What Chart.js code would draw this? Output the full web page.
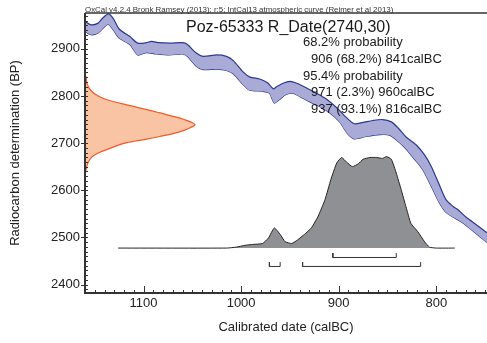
<!DOCTYPE html>
<html>
<head>
<meta charset="utf-8">
<script src="https://cdn.jsdelivr.net/npm/chart.js@4.4.0/dist/chart.umd.min.js"></script>
<style>
  html, body { margin: 0; padding: 0; background: #fff; }
  #wrap { width: 487px; height: 343px; }
</style>
</head>
<body>
<div id="wrap"><canvas id="calChart" width="487" height="343"></canvas></div>
<script>
// IntCal13 curve, upper and lower edge of the band (calBC, BP)
const upperYears = [1160, 1154, 1147, 1142, 1136, 1131, 1125, 1114, 1106, 1097, 1092, 1084, 1073, 1060, 1055, 1046, 1039, 1025, 1015, 1008, 998, 991, 981, 973, 967, 964, 957, 950, 943, 933, 923, 913, 902, 892, 884, 875, 865, 855, 846, 839, 831, 820, 812, 805, 797, 790, 783, 778, 769, 759, 748];
const upperBP = [2958, 2951, 2954, 2965, 2974, 2964, 2942, 2926, 2912, 2913, 2916, 2913, 2912, 2913, 2909, 2891, 2884, 2887, 2884, 2875, 2851, 2840, 2836, 2828, 2815, 2819, 2827, 2831, 2827, 2817, 2806, 2794, 2775, 2754, 2741, 2744, 2748, 2750, 2745, 2732, 2713, 2695, 2675, 2650, 2612, 2580, 2566, 2559, 2542, 2527, 2510];
const lowerYears = [1160, 1154, 1147, 1140, 1136, 1131, 1125, 1114, 1106, 1097, 1087, 1073, 1060, 1055, 1046, 1039, 1025, 1015, 1008, 998, 991, 978, 971, 966, 961, 954, 947, 940, 930, 920, 909, 899, 891, 884, 872, 858, 848, 841, 832, 822, 814, 805, 797, 790, 781, 773, 762, 748];
const lowerBP = [2937, 2930, 2933, 2947, 2952, 2940, 2923, 2909, 2887, 2892, 2889, 2887, 2889, 2884, 2863, 2856, 2857, 2854, 2847, 2824, 2812, 2810, 2806, 2785, 2792, 2803, 2806, 2799, 2788, 2778, 2764, 2745, 2720, 2709, 2714, 2718, 2717, 2707, 2690, 2665, 2644, 2608, 2574, 2553, 2541, 2531, 2513, 2489];

// radiocarbon measurement, relative probability along the BP axis
const dateBP = [2848, 2838, 2825, 2810, 2800, 2792, 2781, 2770, 2764, 2755, 2750, 2745, 2739, 2733, 2727, 2720, 2714, 2708, 2701, 2690, 2680, 2672, 2660, 2644, 2632];
const dateProb = [0, 0.01, 0.02, 0.06, 0.12, 0.2, 0.38, 0.58, 0.68, 0.83, 0.9, 0.96, 1, 0.96, 0.9, 0.8, 0.68, 0.55, 0.38, 0.24, 0.13, 0.07, 0.03, 0.01, 0];

// calibrated distribution (relative probability)
const postYears = [1126, 1015, 1005, 996, 988, 978, 972, 966, 960, 955, 948, 942, 935, 928, 921, 914, 908, 902, 897, 892, 886, 880, 875, 868, 861, 855, 851, 846, 841, 836, 831, 826, 819, 812, 807, 800, 781];
const postProb = [0, 0, 0.01, 0.03, 0.04, 0.05, 0.11, 0.22, 0.15, 0.07, 0.05, 0.09, 0.15, 0.22, 0.35, 0.53, 0.75, 0.93, 0.99, 0.94, 0.89, 0.92, 0.97, 0.99, 0.99, 0.98, 1, 0.97, 0.82, 0.64, 0.45, 0.27, 0.18, 0.07, 0.01, 0, 0];

// highest probability ranges
const range68 = [[906, 841]];
const range68Pct = [68.2];
const range95 = [[971, 960], [937, 816]];
const range95Pct = [2.3, 93.1];

const xTicks = [1100, 1000, 900, 800];
const yTicks = [2400, 2500, 2600, 2700, 2800, 2900];
const sampleName = 'Poz-65333 R_Date(2740,30)';
const headerText = 'OxCal v4.2.4 Bronk Ramsey (2013); r:5; IntCal13 atmospheric curve (Reimer et al 2013)';

const FONT = '"Liberation Sans", Arial, Helvetica, sans-serif';

function pairs(xs, ys) {
    return xs.map((x, i) => ({ x: x, y: ys[i] }));
}

// bracket lines under the distribution
function brackets(ranges, top, low) {
    const pts = [];
    ranges.forEach(r => {
        pts.push({ x: r[0], y: top }, { x: r[0], y: low }, { x: r[1], y: low }, { x: r[1], y: top });
        pts.push({ x: r[1], y: null });
    });
    return pts;
}

const oxcalFrame = {
    id: 'oxcalFrame',
    afterDraw(chart) {
        const ctx = chart.ctx;
        const a = chart.chartArea;
        const xs = chart.scales.x;
        const ys = chart.scales.y;
        ctx.save();
        ctx.strokeStyle = '#333';
        ctx.lineWidth = 1;
        ctx.beginPath();
        for (let v = 2390; v <= 2970; v += 10) {
            const py = Math.round(ys.getPixelForValue(v)) + 0.5;
            const major = v % 100 === 0;
            ctx.moveTo(a.left - (major ? 4 : 0), py);
            ctx.lineTo(a.left + 3, py);
        }
        for (let v = 750; v <= 1160; v += 10) {
            const px = Math.round(xs.getPixelForValue(v)) + 0.5;
            const major = v % 100 === 0;
            ctx.moveTo(px, a.bottom);
            ctx.lineTo(px, a.bottom - (major ? 7 : 3));
        }
        ctx.stroke();

        ctx.lineWidth = 2;
        ctx.beginPath();
        ctx.moveTo(a.left, a.top);
        ctx.lineTo(a.left, a.bottom);
        ctx.lineTo(a.right, a.bottom);
        ctx.stroke();
        ctx.lineWidth = 1.5;
        ctx.beginPath();
        ctx.moveTo(a.left, a.top);
        ctx.lineTo(a.right, a.top);
        ctx.stroke();

        ctx.fillStyle = '#333';
        ctx.textBaseline = 'alphabetic';
        ctx.textAlign = 'left';
        ctx.font = '7.9px ' + FONT;
        ctx.fillText(headerText, a.left, 11.5);

        ctx.fillStyle = '#1a1a1a';
        ctx.font = '16px ' + FONT;
        ctx.fillText(sampleName, 186, 31.5);

        ctx.font = '13px ' + FONT;
        const lines = [['68.2% probability', 0]];
        range68.forEach((r, i) => lines.push([r[0] + ' (' + range68Pct[i] + '%) ' + r[1] + 'calBC', 8]));
        lines.push(['95.4% probability', 0]);
        range95.forEach((r, i) => lines.push([r[0] + ' (' + range95Pct[i] + '%) ' + r[1] + 'calBC', 8]));
        lines.forEach((l, i) => {
            ctx.fillText(l[0], 303 + l[1], 46 + i * 16.8);
        });
        ctx.restore();
    }
};

const ctx = document.getElementById('calChart').getContext('2d');

new Chart(ctx, {
    type: 'line',
    data: {
        datasets: [
            {
                label: 'IntCal13 upper',
                data: pairs(upperYears, upperBP),
                xAxisID: 'x', yAxisID: 'y',
                borderColor: '#2b3990',
                borderWidth: 1.2,
                backgroundColor: '#aaaad6',
                fill: '+1',
                tension: 0.25,
                pointRadius: 0
            },
            {
                label: 'IntCal13 lower',
                data: pairs(lowerYears, lowerBP),
                xAxisID: 'x', yAxisID: 'y',
                borderColor: '#2b3990',
                borderWidth: 1.2,
                fill: false,
                tension: 0.25,
                pointRadius: 0
            },
            {
                label: 'R_Date',
                indexAxis: 'y',
                data: pairs(dateProb, dateBP),
                xAxisID: 'x2', yAxisID: 'y',
                borderColor: '#ef5a28',
                borderWidth: 1.2,
                backgroundColor: '#f9c4a4',
                fill: 'origin',
                cubicInterpolationMode: 'monotone',
                pointRadius: 0
            },
            {
                label: 'Calibrated',
                data: pairs(postYears, postProb),
                xAxisID: 'x', yAxisID: 'y2',
                borderColor: '#222',
                borderWidth: 1,
                backgroundColor: '#8f9094',
                fill: 'origin',
                tension: 0.15,
                pointRadius: 0
            },
            {
                label: '68.2%',
                data: brackets(range68, -0.055, -0.103),
                xAxisID: 'x', yAxisID: 'y2',
                borderColor: '#333',
                borderWidth: 1,
                fill: false,
                spanGaps: false,
                pointRadius: 0
            },
            {
                label: '95.4%',
                data: brackets(range95, -0.153, -0.201),
                xAxisID: 'x', yAxisID: 'y2',
                borderColor: '#333',
                borderWidth: 1,
                fill: false,
                spanGaps: false,
                pointRadius: 0
            }
        ]
    },
    options: {
        responsive: false,
        animation: false,
        devicePixelRatio: 1,
        layout: { padding: { top: 13, left: 0, right: 0, bottom: 0 } },
        plugins: {
            legend: { display: false },
            tooltip: { enabled: false }
        },
        scales: {
            x: {
                type: 'linear',
                position: 'bottom',
                reverse: true,
                min: 748,
                max: 1160,
                afterBuildTicks: (s) => { s.ticks = xTicks.map(v => ({ value: v })); },
                afterFit: (s) => { s.height = 50; },
                grid: { display: false, drawTicks: false },
                border: { display: false },
                ticks: {
                    color: '#222', padding: 3, font: { family: FONT, size: 13 },
                    callback: (v) => String(v)
                },
                title: {
                    display: true,
                    text: 'Calibrated date (calBC)',
                    color: '#222',
                    font: { family: FONT, size: 13 },
                    padding: { top: 0, bottom: 8 }
                }
            },
            y: {
                type: 'linear',
                position: 'left',
                min: 2382,
                max: 2976,
                afterBuildTicks: (s) => { s.ticks = yTicks.map(v => ({ value: v })); },
                afterFit: (s) => { s.width = 85; },
                grid: { display: false, drawTicks: false },
                border: { display: false },
                ticks: {
                    color: '#222', padding: 5, font: { family: FONT, size: 13 },
                    callback: (v) => String(v)
                },
                title: {
                    display: true,
                    text: 'Radiocarbon determination (BP)',
                    color: '#222',
                    font: { family: FONT, size: 13 },
                    padding: { top: 8, bottom: 0 }
                }
            },
            x2: { type: 'linear', display: false, min: 0, max: 3.65 },
            y2: { type: 'linear', display: false, min: -0.491, max: 2.569 }
        }
    },
    plugins: [oxcalFrame]
});
</script>
</body>
</html>
